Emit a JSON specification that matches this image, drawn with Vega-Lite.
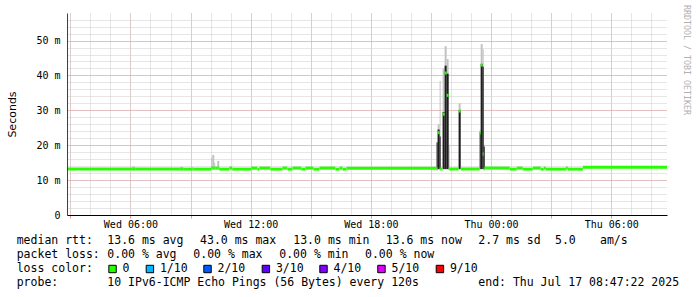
{
  "$schema": "https://vega.github.io/schema/vega-lite/v6.json",
  "width": 600,
  "height": 202,
  "autosize": {"type": "none"},
  "padding": {"left": 67, "top": 13, "right": 30, "bottom": 82},
  "background": "#ffffff",
  "config": {"view": {"stroke": null}},
  "title": {"text": "RRDTOOL / TOBI OETIKER", "orient": "right", "anchor": "start", "frame": "group", "offset": 4, "dx": -8, "font": "DejaVu Sans Mono", "fontSize": 8.3, "fontWeight": "normal", "color": "#b0b0b0"},
  "datasets": {
    "rtt": [
      {"s": "2025-07-16T02:50:00", "e": "2025-07-16T06:05:00", "median": 13.15},
      {"s": "2025-07-16T06:05:00", "e": "2025-07-16T06:14:00", "median": 13.15, "min": 13.0, "max": 13.9},
      {"s": "2025-07-16T06:14:00", "e": "2025-07-16T08:29:00", "median": 13.15},
      {"s": "2025-07-16T08:29:00", "e": "2025-07-16T08:38:00", "median": 13.15, "min": 13.0, "max": 13.8},
      {"s": "2025-07-16T08:38:00", "e": "2025-07-16T09:05:00", "median": 13.15},
      {"s": "2025-07-16T09:05:00", "e": "2025-07-16T09:08:00", "median": 13.15, "min": 13.0, "max": 13.7},
      {"s": "2025-07-16T09:08:00", "e": "2025-07-16T10:02:00", "median": 13.15},
      {"s": "2025-07-16T10:02:00", "e": "2025-07-16T10:05:00", "median": 13.45, "min": 13.1, "max": 16.5},
      {"s": "2025-07-16T10:05:00", "e": "2025-07-16T10:11:00", "median": 13.45, "min": 13.1, "max": 17.2},
      {"s": "2025-07-16T10:11:00", "e": "2025-07-16T10:14:00", "median": 13.45, "min": 13.1, "max": 15.0},
      {"s": "2025-07-16T10:14:00", "e": "2025-07-16T10:20:00", "median": 13.45},
      {"s": "2025-07-16T10:20:00", "e": "2025-07-16T10:26:00", "median": 13.45, "min": 13.1, "max": 15.5},
      {"s": "2025-07-16T10:26:00", "e": "2025-07-16T10:56:00", "median": 13.15},
      {"s": "2025-07-16T10:56:00", "e": "2025-07-16T11:05:00", "median": 13.45},
      {"s": "2025-07-16T11:05:00", "e": "2025-07-16T12:02:00", "median": 13.15},
      {"s": "2025-07-16T12:02:00", "e": "2025-07-16T12:20:00", "median": 13.45},
      {"s": "2025-07-16T12:20:00", "e": "2025-07-16T12:26:00", "median": 13.15},
      {"s": "2025-07-16T12:26:00", "e": "2025-07-16T12:59:00", "median": 13.45},
      {"s": "2025-07-16T12:59:00", "e": "2025-07-16T13:35:00", "median": 13.15},
      {"s": "2025-07-16T13:35:00", "e": "2025-07-16T13:50:00", "median": 13.45},
      {"s": "2025-07-16T13:50:00", "e": "2025-07-16T14:05:00", "median": 13.15},
      {"s": "2025-07-16T14:05:00", "e": "2025-07-16T14:32:00", "median": 13.45},
      {"s": "2025-07-16T14:32:00", "e": "2025-07-16T14:44:00", "median": 13.15},
      {"s": "2025-07-16T14:44:00", "e": "2025-07-16T15:08:00", "median": 13.45},
      {"s": "2025-07-16T15:08:00", "e": "2025-07-16T15:26:00", "median": 13.15},
      {"s": "2025-07-16T15:26:00", "e": "2025-07-16T16:14:00", "median": 13.45},
      {"s": "2025-07-16T16:14:00", "e": "2025-07-16T16:26:00", "median": 13.15},
      {"s": "2025-07-16T16:26:00", "e": "2025-07-16T16:35:00", "median": 13.45},
      {"s": "2025-07-16T16:35:00", "e": "2025-07-16T16:47:00", "median": 13.15},
      {"s": "2025-07-16T16:47:00", "e": "2025-07-16T21:17:00", "median": 13.4},
      {"s": "2025-07-16T21:17:00", "e": "2025-07-16T21:20:00", "median": 13.2, "min": 13.0, "max": 21.0, "lo": 13.1, "hi": 20.8},
      {"s": "2025-07-16T21:20:00", "e": "2025-07-16T21:26:00", "median": 23.6, "min": 13.0, "max": 26.0, "lo": 13.2, "hi": 24.5},
      {"s": "2025-07-16T21:26:00", "e": "2025-07-16T21:29:00", "median": 13.2, "min": 13.0, "max": 38.4, "lo": 13.2, "hi": 22.5},
      {"s": "2025-07-16T21:29:00", "e": "2025-07-16T21:35:00", "median": 13.2},
      {"s": "2025-07-16T21:35:00", "e": "2025-07-16T21:41:00", "median": 28.9, "min": 13.0, "max": 42.0, "lo": 13.2, "hi": 29.5},
      {"s": "2025-07-16T21:41:00", "e": "2025-07-16T21:47:00", "median": 40.7, "min": 13.0, "max": 48.4, "lo": 13.2, "hi": 42.8},
      {"s": "2025-07-16T21:47:00", "e": "2025-07-16T21:53:00", "median": 34.3, "min": 13.0, "max": 44.7, "lo": 13.2, "hi": 40.5},
      {"s": "2025-07-16T21:53:00", "e": "2025-07-16T21:56:00", "median": 13.2, "min": 13.0, "max": 20.0},
      {"s": "2025-07-16T21:56:00", "e": "2025-07-16T22:23:00", "median": 13.2},
      {"s": "2025-07-16T22:23:00", "e": "2025-07-16T22:29:00", "median": 29.8, "min": 13.0, "max": 32.0, "lo": 13.2, "hi": 30.0},
      {"s": "2025-07-16T22:29:00", "e": "2025-07-16T23:26:00", "median": 13.2},
      {"s": "2025-07-16T23:26:00", "e": "2025-07-16T23:29:00", "median": 23.5, "min": 13.0, "max": 24.5, "lo": 13.2, "hi": 23.8},
      {"s": "2025-07-16T23:29:00", "e": "2025-07-16T23:35:00", "median": 43.0, "min": 13.0, "max": 49.0, "lo": 13.2, "hi": 43.3},
      {"s": "2025-07-16T23:35:00", "e": "2025-07-16T23:38:00", "median": 17.5, "min": 13.0, "max": 47.5, "lo": 13.2, "hi": 42.5},
      {"s": "2025-07-16T23:38:00", "e": "2025-07-16T23:41:00", "median": 13.2, "min": 13.0, "max": 20.2, "lo": 13.2, "hi": 19.6},
      {"s": "2025-07-16T23:41:00", "e": "2025-07-17T00:56:00", "median": 13.45},
      {"s": "2025-07-17T00:56:00", "e": "2025-07-17T01:17:00", "median": 13.15},
      {"s": "2025-07-17T01:17:00", "e": "2025-07-17T01:35:00", "median": 13.45},
      {"s": "2025-07-17T01:35:00", "e": "2025-07-17T02:05:00", "median": 13.15},
      {"s": "2025-07-17T02:05:00", "e": "2025-07-17T02:29:00", "median": 13.45},
      {"s": "2025-07-17T02:29:00", "e": "2025-07-17T02:38:00", "median": 13.15},
      {"s": "2025-07-17T02:38:00", "e": "2025-07-17T02:44:00", "median": 13.45},
      {"s": "2025-07-17T02:44:00", "e": "2025-07-17T03:44:00", "median": 13.15},
      {"s": "2025-07-17T03:44:00", "e": "2025-07-17T03:50:00", "median": 13.45},
      {"s": "2025-07-17T03:50:00", "e": "2025-07-17T04:35:00", "median": 13.15},
      {"s": "2025-07-17T04:35:00", "e": "2025-07-17T08:47:00", "median": 13.7}
    ],
    "legendText": [
      {"row": 0, "col": 0, "text": "median rtt:"},
      {"row": 0, "col": 12.94, "text": "13.6 ms avg"},
      {"row": 0, "col": 26.19, "text": "43.0 ms max"},
      {"row": 0, "col": 39.51, "text": "13.0 ms min"},
      {"row": 0, "col": 52.71, "text": "13.6 ms now"},
      {"row": 0, "col": 65.94, "text": "2.7 ms sd"},
      {"row": 0, "col": 76.9, "text": "5.0"},
      {"row": 0, "col": 83.33, "text": "am/s"},
      {"row": 1, "col": 0, "text": "packet loss:"},
      {"row": 1, "col": 12.94, "text": "0.00 % avg"},
      {"row": 1, "col": 25.23, "text": "0.00 % max"},
      {"row": 1, "col": 37.51, "text": "0.00 % min"},
      {"row": 1, "col": 49.76, "text": "0.00 % now"},
      {"row": 2, "col": 0, "text": "loss color:"},
      {"row": 3, "col": 0, "text": "probe:"},
      {"row": 3, "col": 12.94, "text": "10 IPv6-ICMP Echo Pings (56 Bytes) every 120s"},
      {"row": 3, "col": 65.94, "text": "end: Thu Jul 17 08:47:22 2025"}
    ],
    "loss": [
      {"row": 2, "col": 13.69, "loss": "0"},
      {"row": 2, "col": 19.03, "loss": "1/10"},
      {"row": 2, "col": 27.26, "loss": "2/10"},
      {"row": 2, "col": 35.6, "loss": "3/10"},
      {"row": 2, "col": 43.83, "loss": "4/10"},
      {"row": 2, "col": 52.11, "loss": "5/10"},
      {"row": 2, "col": 60.46, "loss": "9/10"}
    ]
  },
  "layer": [
    {
      "layer": [
        {
          "data": {"name": "rtt"},
          "mark": {"type": "rect", "color": "#c2c2c2"},
          "encoding": {
            "x": {
              "field": "s", "type": "temporal",
              "axis": {"orient": "bottom", "title": null, "tickCount": 10, "grid": true, "gridColor": "#e59a9a", "gridDash": [1, 1], "labels": false, "ticks": true, "tickSize": 3, "tickColor": "#e59a9a", "domain": false}
            },
            "x2": {"field": "e"},
            "y": {
              "field": "min", "type": "quantitative",
              "scale": {"domain": [0, 57.9], "nice": false},
              "axis": {"orient": "left", "title": null, "tickCount": 29, "grid": true, "gridColor": "#cdcdcd", "gridDash": [1, 1], "labels": false, "ticks": false, "domain": false}
            },
            "y2": {"field": "max"}
          }
        },
        {
          "data": {"name": "rtt"},
          "mark": {"type": "rect", "color": "#1e1e1e"},
          "encoding": {
            "x": {
              "field": "s", "type": "temporal",
              "axis": {"orient": "bottom", "title": null, "tickCount": 30, "grid": true, "gridColor": "#cdcdcd", "gridDash": [1, 1], "labels": false, "ticks": false, "domain": false}
            },
            "x2": {"field": "e"},
            "y": {
              "field": "lo", "type": "quantitative",
              "axis": {"orient": "left", "title": null, "tickCount": 6, "grid": true, "gridColor": "#e59a9a", "gridDash": [1, 1], "labels": false, "ticks": false, "domain": false}
            },
            "y2": {"field": "hi"}
          }
        },
        {
          "data": {"name": "rtt"},
          "mark": {"type": "rule", "color": "#26ff00", "strokeWidth": 3},
          "encoding": {
            "x": {
              "field": "s", "type": "temporal",
              "axis": {"orient": "bottom", "title": null, "tickCount": 5, "grid": false, "format": "%a %H:%M", "ticks": false, "labelPadding": 4, "labelFont": "DejaVu Sans Mono", "labelFontSize": 10, "labelColor": "#000000", "domain": true, "domainColor": "#000000", "zindex": 1}
            },
            "x2": {"field": "e"},
            "y": {
              "field": "median", "type": "quantitative",
              "axis": {"orient": "left", "title": "Seconds", "tickCount": 6, "grid": false, "ticks": false, "labelExpr": "datum.value == 0 ? '0' : datum.label + ' m'", "labelPadding": 7, "labelFont": "DejaVu Sans Mono", "labelFontSize": 10, "labelColor": "#000000", "domain": true, "domainColor": "#404040", "titleFont": "DejaVu Sans", "titleFontSize": 11, "titleFontWeight": "normal", "titleColor": "#000000", "titlePadding": 18, "zindex": 1}
            }
          }
        }
      ],
      "resolve": {"axis": {"x": "independent", "y": "independent"}}
    },
    {
      "layer": [
        {
          "data": {"name": "legendText"},
          "mark": {"type": "text", "align": "left", "baseline": "middle", "font": "DejaVu Sans Mono", "fontSize": 11.5, "color": "#000000"},
          "encoding": {
            "x": {"field": "col", "type": "quantitative", "scale": {"domain": [7.186, 92.9], "nice": false, "zero": false}, "axis": null},
            "y": {"field": "row", "type": "quantitative", "scale": {"domain": [-16.618, -1.927], "nice": false, "zero": false, "reverse": true}, "axis": null},
            "text": {"field": "text"}
          }
        },
        {
          "data": {"name": "loss"},
          "mark": {"type": "point", "shape": "square", "filled": true, "size": 55, "stroke": "#000000", "strokeWidth": 1, "opacity": 1},
          "encoding": {
            "x": {"field": "col", "type": "quantitative", "axis": null},
            "y": {"field": "row", "type": "quantitative", "axis": null},
            "color": {"field": "loss", "type": "nominal", "scale": {"domain": ["0", "1/10", "2/10", "3/10", "4/10", "5/10", "9/10"], "range": ["#26ff00", "#00b8ff", "#0059ff", "#5e00ff", "#7e00ff", "#dd00ff", "#ff0000"]}, "legend": null}
          }
        },
        {
          "data": {"name": "loss"},
          "mark": {"type": "text", "align": "left", "baseline": "middle", "dx": 10, "font": "DejaVu Sans Mono", "fontSize": 11.5, "color": "#000000"},
          "encoding": {
            "x": {"field": "col", "type": "quantitative", "axis": null},
            "y": {"field": "row", "type": "quantitative", "axis": null},
            "text": {"field": "loss"}
          }
        }
      ]
    }
  ],
  "resolve": {"scale": {"x": "independent", "y": "independent"}}
}
